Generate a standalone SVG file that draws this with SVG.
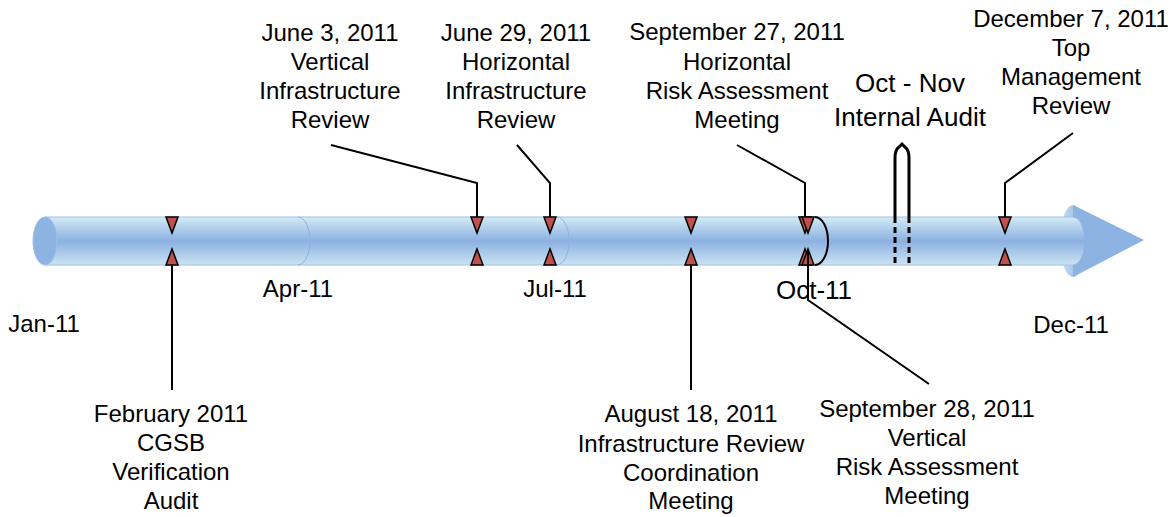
<svg xmlns="http://www.w3.org/2000/svg" width="1174" height="517" viewBox="0 0 1174 517">
<defs>
  <linearGradient id="tube" x1="0" y1="0" x2="0" y2="1">
    <stop offset="0" stop-color="#d3ebf5"/>
    <stop offset="0.5" stop-color="#8cb1e1"/>
    <stop offset="1" stop-color="#cbe3f2"/>
  </linearGradient>
  <linearGradient id="disk" x1="0" y1="0" x2="1" y2="0">
    <stop offset="0" stop-color="#c6def2"/>
    <stop offset="1" stop-color="#8db3e2"/>
  </linearGradient>
  <style>
    text { font-family: "Liberation Sans", Arial, sans-serif; font-size: 24px; fill: #000; text-anchor: middle; }
    .big { font-size: 26px; }
    .seam { fill: none; stroke: #8db3e2; stroke-width: 1; }
    .tri { fill: #c0504d; stroke: #000; stroke-width: 1.5; stroke-linejoin: miter; }
    .ln { fill: none; stroke: #000; stroke-width: 2; }
  </style>
</defs>

<g id="timeline">
  <ellipse cx="1073" cy="241" rx="13" ry="36" fill="url(#disk)"/>
  <polygon points="1073,205 1144,240 1073,277" fill="#8db3e2"/>
  <rect x="45" y="217" width="1028" height="48" fill="url(#tube)"/>
  <path d="M1073,217 A12,24 0 0 1 1073,265 Z" fill="url(#tube)"/>
  <line x1="45" y1="217" x2="1073" y2="217" stroke="#9fc0e8" stroke-width="1.2"/>
  <line x1="45" y1="265" x2="1073" y2="265" stroke="#9fc0e8" stroke-width="1.2"/>
  <path class="seam" d="M1073,217 A12,24 0 0 1 1073,265"/>
  <ellipse cx="45" cy="241" rx="12" ry="24" fill="#8db3e2" stroke="#9fc0e8" stroke-width="1"/>
  <path class="seam" d="M298,217 A12,24 0 0 1 298,265"/>
  <path class="seam" d="M557,217 A12,24 0 0 1 557,265"/>
  <path d="M815,217 A13,24 0 0 1 815,265" fill="none" stroke="#000" stroke-width="2"/>
</g>

<g id="month-labels">
  <text x="44" y="332">Jan-11</text>
  <text x="298" y="297">Apr-11</text>
  <text x="555" y="297">Jul-11</text>
  <text class="big" x="814" y="299">Oct-11</text>
  <text x="1071" y="333">Dec-11</text>
</g>

<g id="connectors">
  <line class="ln" x1="172" y1="265" x2="172" y2="390"/>
  <polyline class="ln" points="331,145 477,183 477,217"/>
  <polyline class="ln" points="517,145 550,183 550,217"/>
  <polyline class="ln" points="737,145 805,183 805,217"/>
  <polyline class="ln" points="1073,133 1005,183 1005,217"/>
  <line class="ln" x1="691" y1="265" x2="691" y2="390"/>
  <polyline class="ln" points="808,265 808,300 929,384"/>
  <path d="M895,217 V158 Q895,150 899,147 L902,144 L905,147 Q909,150 909,158 V217" fill="none" stroke="#000" stroke-width="3"/>
  <line x1="895" y1="217" x2="895" y2="267" stroke="#000" stroke-width="3" stroke-dasharray="6,4"/>
  <line x1="909" y1="217" x2="909" y2="267" stroke="#000" stroke-width="3" stroke-dasharray="6,4"/>
</g>

<g id="markers">
  <polygon class="tri" points="166,217 178,217 172,233"/>
  <polygon class="tri" points="166,265 178,265 172,249"/>
  <polygon class="tri" points="471,217 483,217 477,233"/>
  <polygon class="tri" points="471,265 483,265 477,249"/>
  <polygon class="tri" points="544,217 556,217 550,233"/>
  <polygon class="tri" points="544,265 556,265 550,249"/>
  <polygon class="tri" points="685,217 697,217 691,233"/>
  <polygon class="tri" points="685,265 697,265 691,249"/>
  <polygon class="tri" points="799,217 811,217 805,233"/>
  <polygon class="tri" points="799,265 811,265 805,249"/>
  <polygon class="tri" points="802,217 814,217 808,233"/>
  <polygon class="tri" points="802,265 814,265 808,249"/>
  <polygon class="tri" points="999,217 1011,217 1005,233"/>
  <polygon class="tri" points="999,265 1011,265 1005,249"/>
  <line class="ln" x1="808" y1="265" x2="808" y2="250"/>
</g>

<g id="node-feb">
  <text x="171" y="422">February 2011</text>
  <text x="171" y="451">CGSB</text>
  <text x="171" y="480">Verification</text>
  <text x="171" y="509">Audit</text>
</g>
<g id="node-jun3">
  <text x="330" y="41">June 3, 2011</text>
  <text x="330" y="70">Vertical</text>
  <text x="330" y="99">Infrastructure</text>
  <text x="330" y="128">Review</text>
</g>
<g id="node-jun29">
  <text x="516" y="41">June 29, 2011</text>
  <text x="516" y="70">Horizontal</text>
  <text x="516" y="99">Infrastructure</text>
  <text x="516" y="128">Review</text>
</g>
<g id="node-aug18">
  <text x="691" y="422">August 18, 2011</text>
  <text x="691" y="452">Infrastructure Review</text>
  <text x="691" y="481">Coordination</text>
  <text x="691" y="509">Meeting</text>
</g>
<g id="node-sep27">
  <text x="737" y="40">September 27, 2011</text>
  <text x="737" y="70">Horizontal</text>
  <text x="737" y="99">Risk Assessment</text>
  <text x="737" y="128">Meeting</text>
</g>
<g id="node-sep28">
  <text x="927" y="417">September 28, 2011</text>
  <text x="927" y="446">Vertical</text>
  <text x="927" y="475">Risk Assessment</text>
  <text x="927" y="504">Meeting</text>
</g>
<g id="node-octnov">
  <text class="big" x="910" y="92">Oct - Nov</text>
  <text class="big" x="910" y="126">Internal Audit</text>
</g>
<g id="node-dec7">
  <text x="1071" y="27">December 7, 2011</text>
  <text x="1071" y="56">Top</text>
  <text x="1071" y="85">Management</text>
  <text x="1071" y="114">Review</text>
</g>
</svg>
